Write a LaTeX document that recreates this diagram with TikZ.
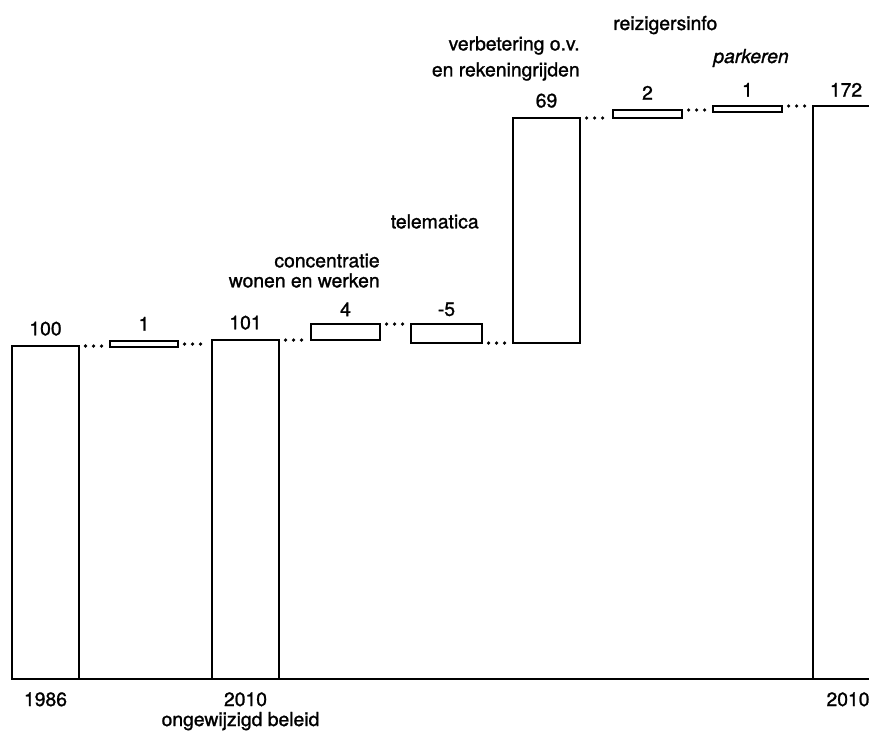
\documentclass[tikz,border=0pt]{standalone}
\usepackage{fontspec}
\setmainfont{TeX Gyre Heros}[FakeBold=1.2]
\usetikzlibrary{fit,positioning}

\tikzset{
  box/.style={draw, line width=1.4pt, inner sep=0pt, outer sep=0pt},
  dots/.style={line width=2pt, line cap=round, dash pattern=on 0pt off 1.6mm,
    shorten <=1.3mm, shorten >=1.3mm},
  txt/.style={inner sep=0pt, font=\fontsize{11}{13}\selectfont},
}

\begin{document}
\begin{tikzpicture}[x=0.2mm, y=0.2mm]
  \useasboundingbox (0,0) rectangle (869,732);
  \clip (0,0) rectangle (869,732);

  % bars and steps
  \node[box, fit={(12,53) (79,386)}] (b1986) {};
  \node[box, fit={(110,385) (178,391)}] (d1) {};
  \node[box, fit={(212,53) (279,392)}] (b2010) {};
  \node[box, fit={(311,392) (380,408)}] (d4) {};
  \node[box, fit={(411,389) (482,408)}] (dm5) {};
  \node[box, fit={(513,389) (580,614)}] (d69) {};
  \node[box, fit={(613,614) (682,622)}] (d2) {};
  \node[box, fit={(713,620) (782,626)}] (d1b) {};
  \node[box, fit={(813,53) (890,626)}] (b172) {};
  \draw[line width=1.4pt] (b1986.south west) -- (b172.south east);

  % dotted links
  \draw[dots] (b1986.north east) -- (b1986.north east -| d1.west);
  \draw[dots] (d1.east) -- (d1.east -| b2010.west);
  \draw[dots] (b2010.north east) -- (b2010.north east -| d4.west);
  \draw[dots] (d4.north east) -- (d4.north east -| dm5.west);
  \draw[dots] (dm5.south east) -- (dm5.south east -| d69.west);
  \draw[dots] (d69.north east) -- (d69.north east -| d2.west);
  \draw[dots] (d2.north east) -- (d2.north east -| d1b.west);
  \draw[dots] (d1b.north east) -- (d1b.north east -| b172.west);

  % values
  \node[txt, above=2mm of b1986.north] (v1986) {100};
  \node[txt, above=2mm of d1.north] (vd1) {1};
  \node[txt, above=2mm of b2010.north] (v2010) {101};
  \node[txt, above=1.5mm of d4.north] (vd4) {4};
  \node[txt, above=1.5mm of dm5.north] (vdm5) {-5};
  \node[txt, above=2mm of d69.north] (vd69) {69};
  \node[txt, above=2mm of d2.north] (vd2) {2};
  \node[txt, above=1.8mm of d1b.north] (vd1b) {1};
  \node[txt, anchor=south] (v172) at (846,635) {172};

  % measures
  \node[txt, align=right, anchor=south east, font=\fontsize{11}{11.4}\selectfont]
    (lconc) at ([yshift=7.2mm]d4.north east) {concentratie\\wonen en werken};
  \node[txt, anchor=south east] (ltele) at ([xshift=-0.6mm, yshift=19mm]dm5.north east) {telematica};
  \node[txt, align=right, anchor=south east, font=\fontsize{11}{14.8}\selectfont]
    (lov) at ([yshift=7.4mm]d69.north east) {verbetering o.v.\\en rekeningrijden};
  \node[txt, anchor=base west] (lreis) at ([yshift=16mm]d2.north west) {reizigersinfo};
  \node[txt, anchor=base west] (lpark) at ([yshift=8.6mm]d1b.north west) {\itshape parkeren};

  % years
  \node[txt, below=2.6mm of b1986.south] (y1986) {1986};
  \node[txt, below=2.6mm of b2010.south] (y2010) {2010};
  \node[txt, anchor=base] (lbeleid) at ([xshift=-1mm, yshift=-4mm]y2010.base) {ongewijzigd beleid};
  \node[txt, anchor=north] (y172) at (848,40) {2010};
\end{tikzpicture}
\end{document}
